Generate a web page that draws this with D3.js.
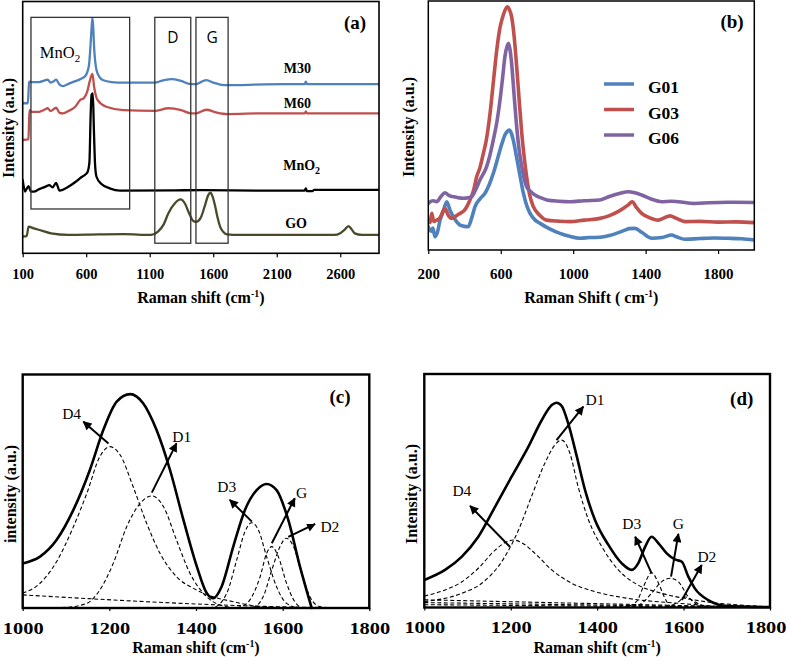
<!DOCTYPE html>
<html><head><meta charset="utf-8">
<script src="https://cdn.jsdelivr.net/npm/d3@7"></script>
<style>body{margin:0;background:#fff}svg{display:block}</style>
</head><body>
<svg id="c" width="787" height="662"></svg>
<script>
// ---------------- DATA ----------------
const ticksA = [100, 600, 1100, 1600, 2100, 2600];
const ticksB = [200, 600, 1000, 1400, 1800];
const ticksCD = [1000, 1200, 1400, 1600, 1800];

// panel (a): Raman shift (cm-1), intensity (a.u.)
const m30 = [[100,59.6],[140,59.6],[146,64],[150,68.2],[170,68],[230,68],[270,68.6],[296,69],[320,67.8],[345,68.3],[363,69],[390,67],[418,66.4],[460,67.3],[510,68.3],[560,69.3],[594,70.5],[622,74.8],[635,83.4],[643,90],[649,93.5],[655,90],[662,82],[681,72.8],[705,70],[730,68.8],[800,68],[893,67.8],[1138,67.8],[1200,68.6],[1274,69.2],[1340,68.6],[1423,67.2],[1464,67.2],[1510,68.2],[1546,68.8],[1600,67.8],[1682,66.8],[1817,66.8],[2000,67.1],[2320,67.2],[2329,68.2],[2338,67.2],[2905,67.2]];
const m60 = [[100,45],[145,45.2],[150,52],[154,56.9],[170,56.2],[230,56.2],[270,57],[296,57.6],[320,56.5],[345,57.3],[363,57.8],[390,55.8],[418,55.6],[460,56.5],[513,58.2],[553,60.9],[581,61.6],[608,64.2],[630,68.8],[649,71.2],[662,66.2],[689,60.9],[757,58.2],[893,56.9],[1138,56.6],[1247,57.6],[1340,57],[1423,55.6],[1464,55.6],[1546,57],[1620,56],[1710,55.3],[2000,55.6],[2320,55.6],[2329,56.4],[2338,55.6],[2905,55.6]];
const mno2 = [[100,29.1],[119,24.5],[130,25.5],[146,26.7],[165,24.5],[187,24.5],[230,25.5],[280,26.5],[309,27.1],[336,26.2],[363,28],[390,24.9],[459,26.4],[520,28.5],[567,30.4],[608,32],[625,36],[635,55],[642,63],[652,63.5],[660,50],[670,35],[681,30.4],[720,27.5],[785,25.8],[866,24.9],[1300,25],[1500,25.1],[2000,24.9],[2320,24.9],[2329,25.8],[2338,24.7],[2380,24.7],[2395,25.2],[2905,25.2]];
const go = [[100,6.6],[130,6.8],[140,9],[146,10.6],[187,9.9],[250,9],[323,7.9],[459,7.3],[700,7.5],[900,7.6],[1110,7.3],[1165,8.6],[1210,11.5],[1247,15.9],[1300,20],[1342,21.4],[1380,19.5],[1410,15.9],[1440,13],[1464,12.5],[1500,14],[1532,18.5],[1560,23],[1578,24.1],[1595,22.5],[1613,19.2],[1635,14],[1654,10.6],[1680,8.5],[1709,7.5],[1800,7.3],[2551,7.3],[2600,8],[2633,9.3],[2665,10.8],[2690,9.5],[2714,7.9],[2769,7.3],[2905,7.3]];

// panel (b)
const g01 = [[200,9.4],[215,7.5],[225,8.8],[237,5.3],[250,7],[265,12],[280,15],[302,19.4],[320,16],[338,13.4],[355,11.5],[375,10],[400,9.5],[421,9.4],[440,13],[458,17.4],[485,20.5],[513,22.8],[535,26],[559,30.8],[580,36],[596,40.2],[610,43.5],[623,46.2],[635,47.5],[647,48.2],[658,47],[669,44.2],[683,39],[697,33.5],[711,28],[725,22.8],[745,17.5],[762,14.7],[790,12],[817,10.7],[870,8.5],[927,6.7],[980,5.5],[1037,4.7],[1090,5],[1148,5.1],[1200,5.8],[1250,7],[1286,8],[1310,8.6],[1341,8.7],[1380,7],[1434,4.7],[1490,5],[1544,6],[1570,5.3],[1617,4.3],[1700,4.6],[1780,4.8],[1857,4.7],[1930,4.5],[2000,4.0]];
const g03 = [[200,12],[210,11],[219,14.7],[230,11.5],[246,12],[265,13],[292,16.7],[310,14],[329,12.7],[350,13.5],[375,14.7],[400,16],[430,20.1],[450,24],[467,29.4],[485,33],[504,38.8],[520,44],[541,54.9],[560,68],[578,80.3],[595,89],[614,94.4],[636,97.7],[648,96.5],[660,93.7],[675,85],[688,73.6],[702,60],[716,46.9],[730,37],[743,29.4],[760,22],[780,17.4],[815,14],[854,12],[920,11.6],[982,11.4],[1060,12],[1148,12.7],[1200,13.8],[1250,15.5],[1304,18.1],[1326,19.4],[1350,17],[1378,14.7],[1420,13],[1470,12],[1500,12.8],[1534,13.7],[1570,12.7],[1617,11.4],[1700,11.5],[1800,11.2],[1900,11.3],[2000,11]];
const g06 = [[200,18.7],[225,19.8],[246,19.4],[270,21.5],[292,23],[315,21.8],[338,21.4],[365,21],[393,20.8],[420,21],[440,21.4],[460,24],[485,28.1],[522,33.5],[540,38],[559,44.2],[580,52],[596,60.2],[610,69],[623,77.6],[642,83],[650,81],[660,75],[674,62],[688,49.5],[702,40],[716,33.5],[730,28.5],[743,25.4],[765,23.5],[789,22.1],[820,21],[854,20.1],[920,19.6],[982,19.4],[1060,19.8],[1148,20.1],[1200,21.5],[1260,22.8],[1304,23.4],[1340,23],[1378,22.1],[1430,20.5],[1489,19.4],[1540,19.6],[1580,19.4],[1672,18.7],[1750,19],[1850,19.2],[2000,19.1]];
const legendB = ["G01", "G03", "G06"];

// panel (c)
const sumC = [[1000,19.1],[1040,22],[1078,29.1],[1117,42],[1155,59.1],[1186,76.2],[1217,88.4],[1248,91.6],[1278,87.7],[1309,76.2],[1340,59.1],[1371,37.7],[1402,17.7],[1425,6.3],[1440,4.2],[1459,9.1],[1486,26.3],[1513,42],[1540,50.5],[1563,53.1],[1586,50.5],[1613,37.7],[1640,17.7],[1667,0]];
const d4C = [[1000,6.3],[1040,10.6],[1078,19.8],[1117,34.8],[1148,49.1],[1178,64.8],[1201,69.1],[1225,65.5],[1255,51.9],[1286,36.3],[1317,23.4],[1355,13.4],[1394,8.4],[1440,4.8],[1486,2.7],[1548,0.6],[1640,0],[1800,0]];
const d1C = [[1000,0],[1101,0.3],[1148,2],[1178,7.7],[1209,19.1],[1240,34.8],[1271,44.8],[1298,48],[1325,43.4],[1355,29.1],[1386,14.9],[1417,6.3],[1455,1.3],[1501,0],[1800,0]];
const d3C = [[1400,0],[1440,0.3],[1471,6.3],[1494,20.6],[1513,32.7],[1528,36.5],[1544,33.4],[1563,22],[1586,9.1],[1609,2],[1640,0],[1800,0]];
const gC = [[1480,0],[1501,0.4],[1524,3.4],[1548,13.4],[1563,23.4],[1575,26.3],[1590,22],[1609,10.6],[1628,2.7],[1648,0],[1800,0]];
const d2C = [[1500,0],[1532,0.4],[1555,4.8],[1575,16.3],[1594,26.3],[1608,29.9],[1625,26.3],[1644,14.9],[1663,4.8],[1686,0.6],[1717,0],[1800,0]];
const baseC = [[1000,5.6],[1700,0.2],[1800,0.1]];
const base0C = [[1000,0],[1800,0]];

// panel (d)
const sumD = [[1000,11.8],[1048,16.1],[1087,21.8],[1125,30.3],[1164,43.2],[1202,56],[1241,68.9],[1272,80.3],[1295,86.7],[1306,87.7],[1318,86.3],[1333,78.9],[1353,64.6],[1372,50.3],[1395,37.5],[1426,26.8],[1457,18.9],[1480,16.1],[1495,18.9],[1511,26],[1526,30.3],[1542,27.5],[1561,23.2],[1580,20.6],[1596,19.6],[1611,13.2],[1626,8.2],[1657,3.2],[1703,0.6],[1800,0.2]];
const d1D = [[1000,2.5],[1087,6.1],[1133,10.4],[1179,19.6],[1218,33.2],[1248,47.5],[1279,61.8],[1302,69.6],[1318,71.7],[1337,66],[1356,51.7],[1380,37.5],[1411,26],[1449,16.1],[1495,9.6],[1549,6.1],[1626,3.2],[1800,0.3]];
const d4D = [[1000,4.9],[1048,7.5],[1087,11],[1125,16.8],[1164,24.6],[1187,27.8],[1206,28.9],[1225,27.8],[1256,23.2],[1295,16.1],[1341,10.4],[1395,6.8],[1472,3.9],[1588,1.8],[1703,0.3],[1800,0]];
const d3D = [[1460,0],[1491,2.5],[1507,8.9],[1526,14.9],[1542,10.4],[1557,3.9],[1572,0.3],[1600,0]];
const gD = [[1480,0.3],[1503,1.8],[1526,6.1],[1549,11],[1569,12.5],[1588,11],[1611,4.6],[1634,1.1],[1660,0.2]];
const d2D = [[1560,0.2],[1585,2],[1605,4.5],[1625,2.5],[1650,0.3]];
const baseD1 = [[1000,3.3],[1800,0]];
const baseD2 = [[1000,2.1],[1800,0]];
const baseD3 = [[1000,1.2],[1800,0]];

// annotations (data coordinates)
const boxesA = [{x0:165,x1:942,v0:17.6,v1:93.7,t:""},{x0:1140,x1:1423,v0:4.0,v1:93.7,t:"D"},{x0:1464,x1:1717,v0:4.0,v1:93.7,t:"G"}];
const seriesLabA = [{t:"M30",at:[2263,71.5]},{t:"M60",at:[2263,57.6]},{t:"GO",at:[2252,9.9]}];
const arrowsC = [
 {t:"D4",from:[1198,70.5],to:[1140,79.8],at:[1113,83.4]},
 {t:"D1",from:[1298,49.4],to:[1355,70.5],at:[1367,73.4]},
 {t:"D3",from:[1529,37.0],to:[1478,46.3],at:[1471,51.9]},
 {t:"G",from:[1575,27.7],to:[1628,47.0],at:[1644,49.4]},
 {t:"D2",from:[1613,30.5],to:[1675,36.0],at:[1709,34.8]}];
const arrowsD = [
 {t:"D4",from:[1198,26.0],to:[1106,43.5],at:[1087,50.3]},
 {t:"D1",from:[1306,71.7],to:[1368,86.0],at:[1395,88.9]},
 {t:"D3",from:[1526,14.6],to:[1488,30.3],at:[1480,36.1]},
 {t:"G",from:[1571,13.2],to:[1588,31.5],at:[1588,36.1]},
 {t:"D2",from:[1596,3.2],to:[1642,18.2],at:[1654,21.8]}];

// ---------------- DRAWING ----------------
const svg = d3.select("#c");
const serif = "'Liberation Serif','Times New Roman',serif";
const sans = "'Open Sans','Noto Sans',sans-serif";

const defs = svg.append("defs");
defs.append("marker").attr("id","ah").attr("markerUnits","userSpaceOnUse")
  .attr("viewBox","0 0 10 10").attr("refX",9).attr("refY",5)
  .attr("markerWidth",10).attr("markerHeight",9).attr("orient","auto")
  .append("path").attr("d","M0,0 L10,5 L0,10 z").attr("fill","#000");

function clip(id, l, t, r, b){
  defs.append("clipPath").attr("id",id).append("rect")
    .attr("x",l).attr("y",t-2).attr("width",r-l).attr("height",b-t+4);
}

function axis(x, ticks, yPos, base, fs, sx, tlen, rightLimit){
  const ax = d3.axisBottom(x).tickValues(ticks).tickSize(tlen).tickSizeOuter(0).tickFormat(d3.format("d"));
  const ga = svg.append("g").attr("transform",`translate(0,${yPos})`).call(ax);
  ga.select(".domain").remove();
  ga.selectAll(".tick line").attr("stroke","#000").attr("stroke-width",1.2);
  const tx = ga.selectAll(".tick text").attr("dy",null).attr("y",base)
    .attr("font-family",serif).attr("font-weight","bold").attr("font-size",fs)
    .attr("fill","#000").attr("transform",`scale(${sx},1)`);
  if (rightLimit) {
    tx.filter((d,i,n)=>i===n.length-1).attr("text-anchor","end")
      .attr("x",(rightLimit - x(ticks[ticks.length-1]))/sx);
  }
}

function xTitle(cx, by, main, close, fs){
  const t = svg.append("text").attr("x",cx).attr("y",by).attr("text-anchor","middle")
    .attr("font-family",serif).attr("font-weight","bold").attr("font-size",fs);
  t.append("tspan").text(main);
  t.append("tspan").attr("dy",-6).attr("font-size",fs*0.62).text("-1");
  t.append("tspan").attr("dy",6).text(close);
}
function yTitle(bx, cy, txt, fs){
  svg.append("text").attr("transform",`translate(${bx},${cy}) rotate(-90)`)
    .attr("text-anchor","middle").attr("font-family",serif).attr("font-weight","bold")
    .attr("font-size",fs).text(txt);
}
function panelLabel(cx, by, txt){
  svg.append("text").attr("x",cx).attr("y",by).attr("text-anchor","middle")
    .attr("font-family",serif).attr("font-weight","bold").attr("font-size",19).text(txt);
}
function drawLine(g, x, y, data, color, w, dash){
  const ln = d3.line().x(d=>x(d[0])).y(d=>y(d[1])).curve(d3.curveMonotoneX);
  const p = g.append("path").attr("d",ln(data)).attr("fill","none").attr("stroke",color)
    .attr("stroke-width",w).attr("stroke-linejoin","round").attr("stroke-linecap","round");
  if (dash) p.attr("stroke-dasharray",dash).attr("stroke-linecap","butt");
  return p;
}

// ----- Panel (a) -----
{
  const L=22.7,R=379,T=1.5,B=253.3;
  const x = d3.scaleLinear().domain([100,2905]).range([L,R]);
  const y = d3.scaleLinear().domain([0,100]).range([B,T]);
  clip("ca",L,T,R,B);
  const g = svg.append("g").attr("clip-path","url(#ca)");
  drawLine(g,x,y,go,"#4a4a2a",2.3);
  drawLine(g,x,y,mno2,"#000",2.3);
  drawLine(g,x,y,m60,"#c0504d",2.3);
  drawLine(g,x,y,m30,"#4f81bd",2.3);
  boxesA.forEach(b=>{
    svg.append("rect").attr("x",x(b.x0)).attr("y",y(b.v1)).attr("width",x(b.x1)-x(b.x0))
      .attr("height",y(b.v0)-y(b.v1)).attr("fill","none").attr("stroke","#333").attr("stroke-width",1.3);
    if (b.t) svg.append("text").attr("x",(x(b.x0)+x(b.x1))/2).attr("y",y(83.6))
      .attr("text-anchor","middle").attr("font-family",sans).attr("font-size",15.5).text(b.t);
  });
  const mt = svg.append("text").attr("x",x(235)).attr("y",y(77.4))
    .attr("font-family",serif).attr("font-size",16.5);
  mt.append("tspan").text("MnO");
  mt.append("tspan").attr("dy",4).attr("font-size",11).text("2");
  seriesLabA.forEach(s=>{
    svg.append("text").attr("x",x(s.at[0])).attr("y",y(s.at[1])).attr("text-anchor","middle")
      .attr("font-family",serif).attr("font-weight","bold").attr("font-size",14).text(s.t);
  });
  const bt = svg.append("text").attr("x",x(2151)).attr("y",y(33.1))
    .attr("font-family",serif).attr("font-weight","bold").attr("font-size",14);
  bt.append("tspan").text("MnO");
  bt.append("tspan").attr("dy",4).attr("font-size",10).text("2");
  svg.append("rect").attr("x",L).attr("y",T).attr("width",R-L).attr("height",B-T)
    .attr("fill","none").attr("stroke","#000").attr("stroke-width",1.6);
  axis(x,ticksA,B,25.7,14.5,1,4);
  xTitle((L+R)/2,303,"Raman shift (cm",")",16);
  yTitle(14,128,"Intensity (a.u.)",16);
  panelLabel(R-24,29,"(a)");
}

// ----- Panel (b) -----
{
  const L=428.3,R=754.3,T=1,B=250;
  const x = d3.scaleLinear().domain([200,2000]).range([L,R]);
  const y = d3.scaleLinear().domain([0,100]).range([B,T]);
  clip("cb",L,T,R,B);
  const g = svg.append("g").attr("clip-path","url(#cb)");
  const cols = ["#4f81bd","#c0504d","#8064a2"];
  [g01,g03,g06].forEach((s,i)=>drawLine(g,x,y,s,cols[i],3.6));
  svg.append("rect").attr("x",L).attr("y",T).attr("width",R-L).attr("height",B-T)
    .attr("fill","none").attr("stroke","#000").attr("stroke-width",1.5);
  const ly = [84, 109.5, 135];
  legendB.forEach((t,i)=>{
    svg.append("line").attr("x1",604).attr("x2",634).attr("y1",ly[i]).attr("y2",ly[i])
      .attr("stroke",cols[i]).attr("stroke-width",3.5);
    svg.append("text").attr("x",648).attr("y",ly[i]+9).attr("font-family",serif)
      .attr("font-weight","bold").attr("font-size",17.5).text(t);
  });
  axis(x,ticksB,B,29,15,1,4);
  xTitle((L+R)/2,303,"Raman Shift ( cm",")",16);
  yTitle(414,127,"Intensity (a.u.)",16);
  panelLabel(732,28,"(b)");
}

function fitPanel(L,R,T,B,id,comps,bases,sum,arrows,ylab,ylx,pl,rightLimit){
  const x = d3.scaleLinear().domain([1000,1800]).range([L,R]);
  const y = d3.scaleLinear().domain([0,100]).range([B,T]);
  clip(id,L,T,R,B);
  const g = svg.append("g").attr("clip-path",`url(#${id})`);
  bases.forEach(s=>drawLine(g,x,y,s,"#000",1.1,"4,2.5"));
  comps.forEach(s=>drawLine(g,x,y,s,"#000",1.1,"4,2.5"));
  drawLine(g,x,y,sum,"#000",2.6);
  arrows.forEach(a=>{
    svg.append("line").attr("x1",x(a.from[0])).attr("y1",y(a.from[1]))
      .attr("x2",x(a.to[0])).attr("y2",y(a.to[1])).attr("stroke","#000")
      .attr("stroke-width",2).attr("marker-end","url(#ah)");
    svg.append("text").attr("x",x(a.at[0])).attr("y",y(a.at[1])+5.5).attr("text-anchor","middle")
      .attr("font-family",serif).attr("font-size",15.5).text(a.t);
  });
  svg.append("rect").attr("x",L).attr("y",T).attr("width",R-L).attr("height",B-T)
    .attr("fill","none").attr("stroke","#000").attr("stroke-width",2.4);
  axis(x,ticksCD,B,26,17,1.2,3,rightLimit);
  xTitle((L+R)/2,652.5,"Raman shift (cm",")",16);
  yTitle(ylx,494,ylab,16);
  panelLabel(pl[0],pl[1],pl[2]);
}
fitPanel(22.7,369.3,374.5,608,"cc",[d4C,d1C,d3C,gC,d2C],[baseC,base0C],sumC,arrowsC,"intensity (a.u.)",16,[340,403,"(c)"]);
fitPanel(424.3,770,374,607.5,"cd",[d4D,d1D,d3D,gD,d2D],[baseD1,baseD2,baseD3],sumD,arrowsD,"Intensity (a.u.)",417,[741.7,405,"(d)"],786);
</script>
</body></html>
